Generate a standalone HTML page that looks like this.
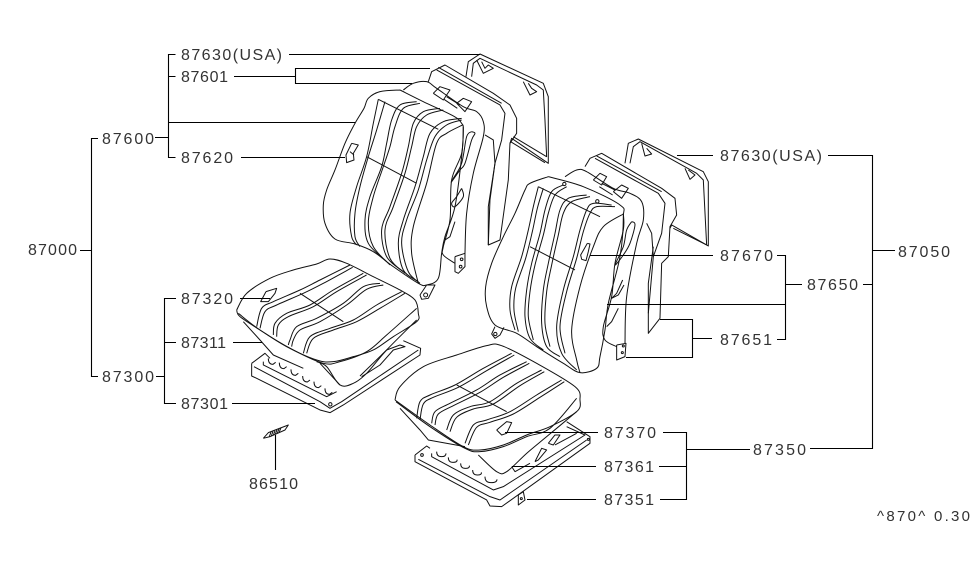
<!DOCTYPE html>
<html><head><meta charset="utf-8"><style>
html,body{margin:0;padding:0;background:#fff}
svg{display:block}
text{font-family:"Liberation Sans",sans-serif;font-size:16px;fill:#333}
.s polyline,.s path,.s circle{fill:none;stroke:#111;stroke-width:1;vector-effect:non-scaling-stroke;stroke-linejoin:round}
.l path{fill:none;stroke:#000;stroke-width:1.1}
</style></head><body>
<svg id="d" width="975" height="566" viewBox="0 0 975 566" xmlns="http://www.w3.org/2000/svg">
<rect width="975" height="566" fill="#fff"/>
<!-- left back -->
<g class="s" transform="translate(160,40) scale(.3333)">
<polyline points="720,150 660,155 625,175 612,205 585,250 555,310 525,390 500,450 490,495 495,550 525,597 585,612 640,635 700,680 775,730 800,735 835,715 845,640 855,590 885,500 905,350 910,270 905,250 880,228 790,185 720,150"/>
<polyline points="908,255 860,280 830,310 800,430 760,560 755,640 775,730"/>
<polyline points="655,178 640,250 620,350 590,440 570,520 575,590 590,615"/>
<polyline points="675,185 650,270 625,350 600,440 585,520 585,590 600,620"/>
<polyline points="770,185 720,195 695,240 680,310 665,380 630,470 615,540 625,610 680,665"/>
<polyline points="780,190 730,205 705,260 690,320 670,380 640,470 625,550 640,620 690,675"/>
<polyline points="840,205 790,215 760,250 745,320 725,400 690,500 665,570 680,650 730,695"/>
<polyline points="850,210 800,225 770,260 755,320 735,400 700,500 675,570 690,655 735,700"/>
<polyline points="905,235 850,245 810,280 790,350 765,440 730,540 715,610 730,690 775,725"/>
<polyline points="905,240 860,255 825,290 800,360 775,450 740,540 725,610 745,695 780,730"/>
<polyline points="620,350 770,430"/>
<polyline points="655,178 835,268"/>
<polyline points="730,150 760,130 800,125 830,145 910,200 950,215 970,245 970,290 940,400 920,520 915,640"/>
<polyline points="910,260 905,340 875,420 870,540 850,620 850,645 885,670"/>
<polyline class="k" points="885,650 885,695 895,700 915,680 915,640 885,650"/>
<circle cx="905" cy="658" r="4"/><circle cx="902" cy="680" r="4"/>
<polyline points="935,275 920,290 905,370 880,415 875,425 900,390 915,370 935,300 945,280 935,275"/>
<polyline points="905,445 890,470 875,490 885,500 910,470 905,445"/>
<polyline points="885,545 870,590 855,600"/>
<polyline class="k" points="805,125 815,95 855,75 1000,160 1050,195 1070,235 1070,280 1050,310 1045,420 1020,600 985,615 985,500 1005,370"/>
<polyline class="k" points="830,90 1020,195 1035,220 1025,300 1005,370 990,480 985,615"/>
<polyline points="835,82 1025,190"/>
<polyline points="975,285 1000,300 1005,370"/>
<polyline class="k" points="918,110 925,65 960,42 1150,130 1165,170 1165,370 1055,295 1050,310"/>
<polyline class="k" points="935,110 940,70 960,55 1130,135 1150,150 1155,240 1160,350 1060,290"/>
<polyline points="1052,305 1155,368"/>
<polyline class="k" points="950,60 970,100 1000,85 985,75 975,85 965,65"/>
<polyline points="1090,125 1110,165 1130,155 1115,145 1105,130"/>
<polyline points="820,160 840,140 870,150 850,180 820,160"/>
<polyline points="890,190 910,175 935,185 915,215 890,190"/>
<polyline points="860,170 900,195"/><polyline points="852,178 892,205"/>
<polyline class="k" points="575,310 595,315 580,340 582,360 560,368 558,345 575,310"/>
<polyline points="570,335 582,345"/>
<polyline class="k" points="780,765 800,735 825,735 805,775 785,778 780,765"/>
<circle cx="797" cy="765" r="6"/>
</g>
<!-- left seat -->
<g class="s" transform="translate(160,250) scale(.3333)">
<polyline points="230,180 260,130 330,85 400,60 470,42 510,27 560,40 640,80 720,120 765,150 775,190 770,215 700,260 640,300 580,320 520,335 470,330 380,290 300,240 240,200 230,180"/>
<polyline points="250,215 300,270 340,315 430,355"/>
<polyline points="470,335 500,350 540,405 580,400 620,370 680,300 770,210"/>
<polyline points="480,340 540,405"/>
<polyline points="570,45 480,90 420,120 340,155 305,175 290,230"/>
<polyline points="578,52 490,100 430,130 350,165 315,185 300,235"/>
<polyline points="610,70 520,120 450,165 380,190 345,220 340,255"/>
<polyline points="620,75 530,125 460,170 385,200 355,225 350,260"/>
<polyline points="660,100 610,110 550,160 470,205 410,230 390,270 385,285"/>
<polyline points="670,105 620,118 560,165 480,215 420,240 400,270 395,290"/>
<polyline points="725,125 650,165 580,210 510,235 450,260 430,310"/>
<polyline points="735,130 660,175 590,215 520,240 460,265 440,310"/>
<polyline points="420,130 550,215"/>
<polyline points="235,190 300,240 400,300 490,340 540,335 620,305 680,255 770,175"/>
<polyline class="k" points="275,340 275,378 290,385 480,480 510,488 550,465 780,315 782,295 730,272"/>
<polyline points="275,340 315,310 330,325"/>
<polyline class="k" points="282,350 480,455 510,475 545,455 775,300"/>
<polyline points="310,335 310,345 500,440 530,425"/>
<polyline class="k" points="600,378 680,300 720,285 735,290 700,300 660,345 605,380"/>
<path d="M325 325q0 18 14 18l8-6M358 338q0 18 14 18l8-6M393 358q0 18 14 18l8-6M428 378q0 18 14 18l8-6M462 395q0 18 14 18l8-6M495 415q0 18 14 18l8-6"/>
<circle cx="511" cy="463" r="5"/>
<polyline class="k" points="318,125 350,115 345,130 325,155 302,155 318,125"/>
<polyline class="k" points="310,565 325,548 385,525 375,540 330,560 310,565"/>
<path d="M328 560l5-14M334 558l5-14M340 556l5-14M346 553l5-14M352 550l5-14M358 546l5-13"/>
</g>
<!-- right back -->
<g class="s" transform="translate(480,130) scale(.3333)">
<polyline points="205,140 150,160 135,180 105,250 70,320 35,400 17,470 20,530 45,585 110,610 170,650 250,700 300,728 350,715 360,680 375,600 385,520 420,380 430,260 420,225 310,170 205,140"/>
<polyline points="430,252 370,290 340,350 300,470 275,600 290,690 300,728"/>
<polyline points="395,225 340,220 320,240 300,300 280,380 250,480 230,590 245,670 290,720"/>
<polyline points="405,230 350,230 330,250 310,305 290,385 260,485 240,590 255,670"/>
<polyline points="320,195 265,205 240,240 225,310 205,400 190,480 185,580 200,650 240,680"/>
<polyline points="330,200 275,215 250,250 235,315 215,405 200,485 195,580 210,650"/>
<polyline points="250,165 215,185 195,240 180,310 155,400 140,480 135,560 150,625 190,660"/>
<polyline points="260,170 225,195 205,250 190,315 165,405 150,485 145,560 160,630"/>
<polyline points="175,170 160,230 145,300 125,380 95,470 90,540 105,600"/>
<polyline points="190,175 172,235 157,305 137,385 107,475 102,540 115,605"/>
<polyline points="150,350 285,420"/>
<polyline points="175,170 360,260"/>
<polyline points="255,140 290,120 320,125 400,175 450,190 485,215 490,270 470,340 440,500 435,640"/>
<polyline points="430,250 430,300 405,400 395,500 370,590 375,630 410,650"/>
<polyline class="k" points="410,645 410,690 435,680 438,640 410,645"/>
<circle cx="430" cy="648" r="3"/><circle cx="427" cy="668" r="3"/>
<polyline points="455,275 440,300 430,350 405,405 430,375 450,340 465,285 455,275"/>
<polyline points="428,450 410,490 395,505 415,495 432,465"/>
<polyline points="415,535 395,575 380,590"/>
<polyline class="k" points="315,110 330,85 365,70 545,175 585,205 590,255 570,290 565,380 545,400 540,565 505,610 505,460 520,350"/>
<polyline class="k" points="345,85 535,190 555,220 545,310 520,380 505,550"/>
<polyline points="350,78 545,185"/>
<polyline points="500,280 515,310 520,380"/>
<polyline class="k" points="435,100 445,40 475,27 670,125 685,155 685,348 575,285 570,295"/>
<polyline class="k" points="450,100 460,50 480,35 650,130 670,150 680,345 580,295"/>
<polyline points="485,40 495,78 515,72 500,55"/>
<polyline points="615,115 630,148 645,135 625,120"/>
<polyline points="340,150 360,130 380,140 365,165 340,150"/>
<polyline points="400,185 425,165 445,175 425,205 400,185"/>
<polyline points="365,160 405,180"/><polyline points="358,170 398,195"/>
<polyline class="k" points="322,340 330,342 325,365 318,392 305,388 302,375 322,340"/>
<circle cx="253" cy="162" r="5"/><circle cx="352" cy="214" r="5"/>
<polyline points="45,590 35,612 45,625 60,615 72,592"/>
<circle cx="46" cy="612" r="5"/>
</g>
<!-- right seat -->
<g class="s" transform="translate(390,340) scale(.3333)">
<polyline points="15,180 30,140 100,80 200,45 290,17 335,17 440,70 555,140 570,180 560,215 480,260 410,285 340,315 270,330 220,320 120,255 15,180"/>
<polyline points="30,205 90,270 115,300 225,320"/>
<polyline points="265,345 320,395 350,395 410,340 470,290 560,215"/>
<polyline points="365,40 280,85 195,135 120,165 90,185 80,235"/>
<polyline points="373,45 290,92 205,142 130,172 100,192 90,240"/>
<polyline points="410,65 330,105 260,150 180,190 135,215 125,250"/>
<polyline points="418,70 340,112 270,157 190,197 145,222 135,255"/>
<polyline points="455,90 380,130 300,185 240,200 190,225 170,270"/>
<polyline points="463,95 390,137 310,192 250,207 200,232 180,275"/>
<polyline points="515,120 440,165 360,215 290,240 250,255 225,310"/>
<polyline points="523,125 450,172 370,222 300,247 260,262 235,315"/>
<polyline points="200,135 350,215"/>
<polyline points="18,185 120,260 225,325 270,335 340,320 410,290 480,265 560,175"/>
<polyline points="75,345 110,318 120,325"/>
<polyline class="k" points="75,345 75,365 290,480 300,498 335,500 600,310 600,290 530,245"/>
<polyline class="k" points="125,340 125,350 310,450 340,440 585,285 530,260"/>
<polyline points="85,358 300,470 330,480 590,300"/>
<path d="M140 335q0 15 14 15t14-10M175 352q0 15 14 15t12-8M212 370q0 15 14 15t12-8M248 390q0 15 14 15t12-8M285 410q0 18 18 18t18-10"/>
<polyline points="435,365 455,325 470,330 445,360 435,365"/>
<polyline points="475,310 495,285 510,285 490,315 475,310"/>
<polyline points="495,315 560,280"/>
<polyline points="365,380 375,395 420,370"/>
<circle cx="96" cy="345" r="4"/><circle cx="595" cy="298" r="3"/>
<polyline class="k" points="320,270 350,245 365,248 350,280 335,285 320,270"/>
<polyline points="385,465 385,495 405,480 400,455 385,465"/><circle cx="394" cy="476" r="3"/>
</g>
<!-- leaders -->
<g class="l">
<path d="M175.500 54.500H168.500V157.500H175.500M168.500 76.500H175.500M168.500 122.500H355M155 137.500H168.500"/>
<path d="M289 54.500H480M234 76.500H295.500M430 68.500H295.500V83.500H412M241 157.500H345"/>
<path d="M98 138.500H91.500V376.500H98M80 250.500H91.500"/>
<path d="M176 298.500H164.500V403.500H176M156 376.500H164.500M164.500 342.500H176"/>
<path d="M240 298.500H270M233 342.500H262M232 403.500H315M275.500 435V470"/>
<path d="M677 155.500H713M828 155.500H872.500V448.500H810M872.500 250.500H895M863 284.500H872.500"/>
<path d="M590 255.500H713M777 255.500H785.500V339.500H777M785.500 284.500H802M607 304.500H785.500"/>
<path d="M660 319.500H692.500V357.500H626M692.500 338.500H712"/>
<path d="M505 432.500H598M512 466.500H596M527 499.500H596M663 432.500H686.500V499.500H660M659 466.500H686.500M686.500 449.500H750"/>
</g>
<text x="181" y="60" textLength="101" lengthAdjust="spacing">87630(USA)</text>
<text x="181" y="82" textLength="47" lengthAdjust="spacing">87601</text>
<text x="102" y="144" textLength="52" lengthAdjust="spacing">87600</text>
<text x="181" y="163" textLength="52" lengthAdjust="spacing">87620</text>
<text x="28" y="255" textLength="49" lengthAdjust="spacing">87000</text>
<text x="181" y="304" textLength="52" lengthAdjust="spacing">87320</text>
<text x="181" y="348" textLength="45" lengthAdjust="spacing">87311</text>
<text x="102" y="382" textLength="52" lengthAdjust="spacing">87300</text>
<text x="181" y="409" textLength="47" lengthAdjust="spacing">87301</text>
<text x="249" y="489" textLength="49" lengthAdjust="spacing">86510</text>
<text x="720" y="161" textLength="102" lengthAdjust="spacing">87630(USA)</text>
<text x="720" y="261" textLength="53" lengthAdjust="spacing">87670</text>
<text x="720" y="345" textLength="52" lengthAdjust="spacing">87651</text>
<text x="807" y="290" textLength="51" lengthAdjust="spacing">87650</text>
<text x="898" y="257" textLength="52" lengthAdjust="spacing">87050</text>
<text x="604" y="438" textLength="52" lengthAdjust="spacing">87370</text>
<text x="604" y="472" textLength="50" lengthAdjust="spacing">87361</text>
<text x="604" y="505" textLength="50" lengthAdjust="spacing">87351</text>
<text x="753" y="455" textLength="53" lengthAdjust="spacing">87350</text>
<text x="877" y="521" textLength="93" lengthAdjust="spacing" style="font-size:15px">^870^ 0.30</text>
</svg>
<script>
document.querySelectorAll('#d polyline:not(.k)').forEach(function(e){
  var p=e.getAttribute('points').trim().split(/\s+/).map(function(s){return s.split(',').map(Number)});
  if(p.length<6)return;
  var d='M'+p[0][0]+' '+p[0][1],n=p.length;
  for(var i=0;i<n-1;i++){
    var a=p[Math.max(i-1,0)],b=p[i],c=p[i+1],f=p[Math.min(i+2,n-1)];
    d+='C'+(b[0]+(c[0]-a[0])/6).toFixed(1)+' '+(b[1]+(c[1]-a[1])/6).toFixed(1)+' '+(c[0]-(f[0]-b[0])/6).toFixed(1)+' '+(c[1]-(f[1]-b[1])/6).toFixed(1)+' '+c[0]+' '+c[1];
  }
  var q=document.createElementNS('http://www.w3.org/2000/svg','path');
  q.setAttribute('d',d);
  e.parentNode.replaceChild(q,e);
});
</script>
</body></html>
